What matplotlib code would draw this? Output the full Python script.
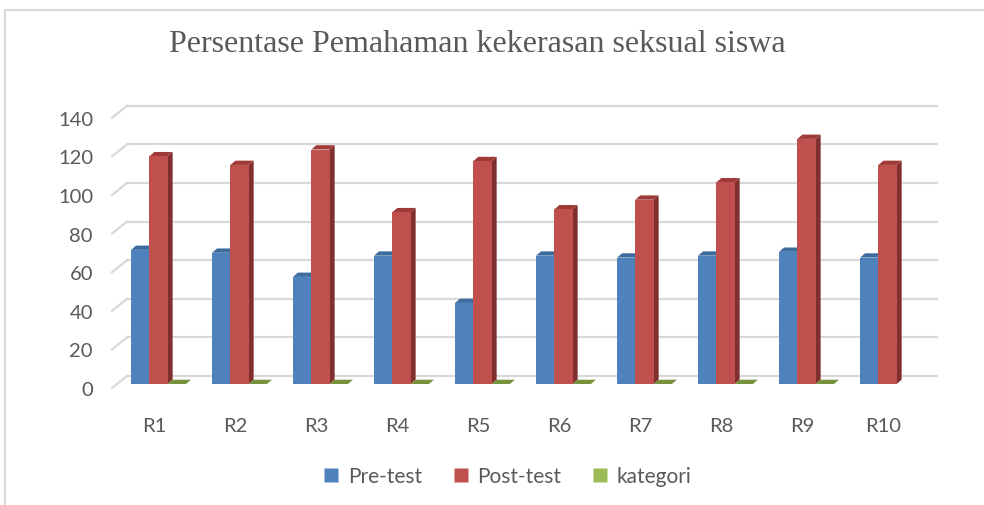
import numpy as np
import matplotlib
matplotlib.use("Agg")
import matplotlib.pyplot as plt
import matplotlib.transforms as mtransforms
from matplotlib.patches import Polygon, Rectangle
from matplotlib.lines import Line2D

# ---- data ----
categories = ["R1", "R2", "R3", "R4", "R5", "R6", "R7", "R8", "R9", "R10"]
pre_test = [69.5, 68, 55.5, 66.5, 42, 66.5, 65.5, 66.5, 68.5, 65.5]
post_test = [118, 113.5, 121.5, 89, 115.5, 90.5, 95.5, 104.5, 127, 113.5]
kategori = [0, 0, 0, 0, 0, 0, 0, 0, 0, np.nan]
series_names = ["Pre-test", "Post-test", "kategori"]
yticks = [0, 20, 40, 60, 80, 100, 120, 140]

# ---- style ----
front_cols = ["#4F81BD", "#C0504D", "#9BBB59"]
top_cols = ["#3D6B9E", "#9E3B38", "#76923C"]
side_cols = ["#375E8C", "#7F2F2D", "#6A8535"]
grid_col = "#D9D9D9"
text_col = "#595959"

W, H, DPI = 984, 506, 100
fig = plt.figure(figsize=(W / DPI, H / DPI), dpi=DPI)

# outer chart frame (cropped at right / bottom)
fig.patches.append(Rectangle((5 / W, -0.1), 1.2, 1.1 - 11 / H, transform=fig.transFigure,
                             fill=False, edgecolor="#D9D9D9", linewidth=1.5))

ax_left, ax_right = 118, 928
ax_bottom, ax_top = 385, 114.8
ax = fig.add_axes([ax_left / W, 1 - ax_bottom / H, (ax_right - ax_left) / W, (ax_bottom - ax_top) / H])
xmin, xmax, ymin, ymax = -0.5, 9.5, 0, 140
ax.set_xlim(xmin, xmax)
ax.set_ylim(ymin, ymax)
for s in ax.spines.values():
    s.set_visible(False)
ax.set_facecolor("none")

ux = (ax_right - ax_left) / (xmax - xmin)   # px per x unit
uy = (ax_bottom - ax_top) / (ymax - ymin)   # px per y unit

def dxu(px):
    return px / ux

def dyu(px):
    return px / uy

# back wall gridlines & diagonal floor/wall lines
back_dx, back_dy = 9, 8
front_dx, front_dy = -6, -4
for v in yticks:
    ax.add_line(Line2D([xmin + dxu(back_dx), xmax + dxu(back_dx)],
                       [v + dyu(back_dy), v + dyu(back_dy)],
                       color=grid_col, lw=1.6, clip_on=False, zorder=1))
    ax.add_line(Line2D([xmin + dxu(front_dx), xmin + dxu(back_dx)],
                       [v + dyu(front_dy), v + dyu(back_dy)],
                       color=grid_col, lw=1.6, clip_on=False, zorder=1))

# 3-D styled bars
bw = 18.3 / ux
depth_dx, depth_dy = dxu(5), dyu(4.3)
x = np.arange(len(categories))
offsets = [-bw, 0, bw]
all_series = [pre_test, post_test, kategori]
z = 3
for si, vals in enumerate(all_series):
    for i, v in enumerate(vals):
        if v is None or np.isnan(v):
            continue
        x0 = x[i] + offsets[si] - bw / 2
        x1 = x0 + bw
        # side face
        ax.add_patch(Polygon([(x1, 0), (x1 + depth_dx, depth_dy), (x1 + depth_dx, v + depth_dy), (x1, v)],
                             closed=True, facecolor=side_cols[si], edgecolor="none", zorder=z))
        # top face
        ax.add_patch(Polygon([(x0, v), (x1, v), (x1 + depth_dx, v + depth_dy), (x0 + depth_dx, v + depth_dy)],
                             closed=True, facecolor=top_cols[si], edgecolor="none", zorder=z + 0.1))
        # front face
        ax.bar(x0, v, width=bw, align="edge", color=front_cols[si], edgecolor="none", zorder=z + 0.2)
    z += 1

# axis labels
ax.set_yticks(yticks)
ax.set_yticklabels([str(t) for t in yticks])
ax.set_xticks(x)
ax.set_xticklabels(categories)
ax.tick_params(axis="both", length=0, colors=text_col, labelsize=14.5)
ax.tick_params(axis="y", pad=18)
ax.tick_params(axis="x", pad=24)
ydown = mtransforms.ScaledTranslation(0, -4 / DPI, fig.dpi_scale_trans)
xleft = mtransforms.ScaledTranslation(-4 / DPI, 0, fig.dpi_scale_trans)
for lab in ax.get_yticklabels():
    lab.set_fontfamily("Lato")
    lab.set_transform(lab.get_transform() + ydown)
for lab in ax.get_xticklabels():
    lab.set_fontfamily("Lato")
    lab.set_transform(lab.get_transform() + xleft)

fig.text(477 / W, 1 - 45 / H, "Persentase Pemahaman kekerasan seksual siswa",
         ha="center", va="center", fontsize=23, color=text_col, family="Liberation Serif")

handles = [Line2D([], [], marker="s", linestyle="none", markersize=9.5,
                  markerfacecolor=c, markeredgecolor="none") for c in front_cols]
leg = fig.legend(handles, series_names, loc="center", bbox_to_anchor=(506 / W, 1 - 477 / H),
                 ncol=3, frameon=False, handletextpad=0.3, columnspacing=1.35, handlelength=1.0,
                 prop={"family": "Lato", "size": 15})
for t in leg.get_texts():
    t.set_color(text_col)

fig.savefig("out.png", dpi=DPI)
